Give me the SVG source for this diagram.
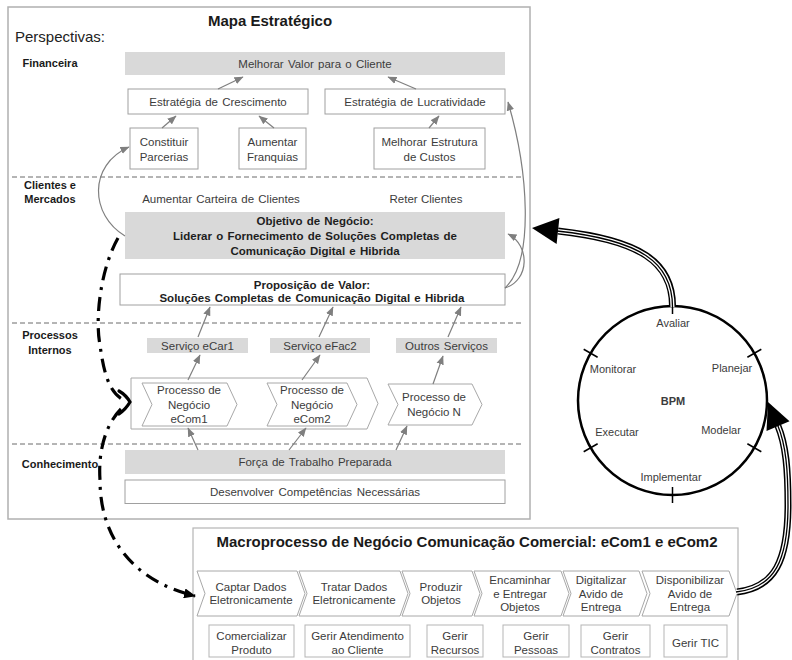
<svg xmlns="http://www.w3.org/2000/svg" width="792" height="660" viewBox="0 0 792 660">
<defs>
<marker id="ga" markerUnits="userSpaceOnUse" markerWidth="10" markerHeight="8" refX="8.5" refY="4" orient="auto"><path d="M0,0.3 L9,4 L0,7.7 z" fill="#7f7f7f"/></marker>
<marker id="fillv" markerUnits="userSpaceOnUse" markerWidth="12" markerHeight="10" refX="11" refY="5" orient="auto"><path d="M0,0 L12,5 L0,10 z" fill="#000"/></marker>
</defs>
<style>
.t{font-family:"Liberation Sans",Arial,sans-serif;font-size:11.5px;fill:#3c3c3c;text-anchor:middle}
.b{font-weight:bold;fill:#1e1e1e}
.lab{font-family:"Liberation Sans",Arial,sans-serif;font-size:11px;font-weight:bold;fill:#1a1a1a;text-anchor:middle}
.box{fill:#fff;stroke:#a0a0a0;stroke-width:1}
.mbox{fill:#fff;stroke:#b5b5b5;stroke-width:1}
.gbox{fill:#d9d9d9}
.dash{stroke:#6a6a6a;stroke-dasharray:5 3;stroke-width:1;fill:none}
.gc{fill:none;stroke:#7f7f7f;stroke-width:1.2;marker-end:url(#ga)}
.dd{fill:none;stroke:#000;stroke-width:3.2;stroke-dasharray:14 7 3 7}
.chev{fill:#fff;stroke:#a8a8a8;stroke-width:1}
.t1{fill:none;stroke:#000;stroke-width:7}
.t2{fill:none;stroke:#fff;stroke-width:4}
.t3{fill:none;stroke:#000;stroke-width:1.3}
.bpm{font-family:"Liberation Sans",Arial,sans-serif;font-size:11px;fill:#3c3c3c;text-anchor:middle}
</style>

<g id="mapa-frame">
<rect x="8" y="7" width="522" height="512" fill="#fff" stroke="#b0b0b0" stroke-width="1.5"/>
<text x="270" y="26" font-family="Liberation Sans, Arial, sans-serif" font-size="15" font-weight="bold" fill="#1a1a1a" text-anchor="middle">Mapa Estratégico</text>
<text x="15" y="42" font-family="Liberation Sans, Arial, sans-serif" font-size="15" fill="#222">Perspectivas:</text>
<line class="dash" x1="12" y1="177" x2="522" y2="177"/>
<line class="dash" x1="12" y1="323" x2="522" y2="323"/>
<line class="dash" x1="12" y1="444" x2="522" y2="444"/>
<text class="lab" x="50" y="67">Financeira</text>
<text class="lab" x="50" y="189">Clientes e</text>
<text class="lab" x="50" y="203">Mercados</text>
<text class="lab" x="50" y="339">Processos</text>
<text class="lab" x="50" y="354">Internos</text>
<text class="lab" x="60" y="468">Conhecimento</text>
</g>

<g id="melhorar-valor"><rect class="gbox" x="125" y="52" width="380" height="23"/><text class="t" x="315" y="67.5" word-spacing="1">Melhorar Valor para o Cliente</text></g>
<g id="estrategia-crescimento"><rect class="box" x="128" y="89" width="180" height="25"/><text class="t" x="218" y="105.5" word-spacing="1">Estratégia de Crescimento</text></g>
<g id="estrategia-lucratividade"><rect class="box" x="325" y="89" width="180" height="25"/><text class="t" x="415" y="105.5" word-spacing="1">Estratégia de Lucratividade</text></g>
<g id="constituir-parcerias"><rect class="box" x="130" y="128" width="68" height="41"/><text class="t" x="164" y="146">Constituir</text><text class="t" x="164" y="160.5">Parcerias</text></g>
<g id="aumentar-franquias"><rect class="box" x="239" y="128" width="67" height="41"/><text class="t" x="272.5" y="146">Aumentar</text><text class="t" x="272.5" y="160.5">Franquias</text></g>
<g id="melhorar-estrutura"><rect class="box" x="374" y="128" width="111" height="41"/><text class="t" x="429.5" y="146" word-spacing="1">Melhorar Estrutura</text><text class="t" x="429.5" y="160.5">de Custos</text></g>

<g id="aumentar-carteira"><text class="t" x="221" y="203" word-spacing="1">Aumentar Carteira de Clientes</text></g>
<g id="reter-clientes"><text class="t" x="426" y="203">Reter Clientes</text></g>
<g id="objetivo-negocio"><rect class="gbox" x="125" y="212" width="380" height="47"/>
<text class="t b" x="315" y="225" word-spacing="1">Objetivo de Negócio:</text>
<text class="t b" x="315" y="240" word-spacing="1">Liderar o Fornecimento de Soluções Completas de</text>
<text class="t b" x="315" y="254.5" word-spacing="1">Comunicação Digital e Hibrida</text></g>
<g id="proposicao-valor"><rect class="box" x="120" y="274" width="385" height="31"/>
<text class="t b" x="312" y="288.5" word-spacing="1">Proposição de Valor:</text>
<text class="t b" x="312" y="302" word-spacing="1">Soluções Completas de Comunicação Digital e Hibrida</text></g>

<g id="servico-ecar1"><rect class="gbox" x="147" y="338" width="101" height="15"/><text class="t" x="197.5" y="349.5">Serviço eCar1</text></g>
<g id="servico-efac2"><rect class="gbox" x="270" y="338" width="100" height="15"/><text class="t" x="320" y="349.5">Serviço eFac2</text></g>
<g id="outros-servicos"><rect class="gbox" x="396" y="338" width="101" height="15"/><text class="t" x="446.5" y="349.5" word-spacing="1">Outros Serviços</text></g>

<g id="grupo-ecom"><polygon class="chev" points="131,378 367,378 378,403.5 367,429 131,429"/></g>
<g id="processo-ecom1"><polygon class="chev" points="142,383 227,383 237,404.5 227,426 142,426 152,404.5"/>
<text class="t" x="189" y="394">Processo de</text><text class="t" x="189" y="408.5">Negócio</text><text class="t" x="189" y="423">eCom1</text></g>
<g id="processo-ecom2"><polygon class="chev" points="267,383 347,383 357,404.5 347,426 267,426 277,404.5"/>
<text class="t" x="312" y="394">Processo de</text><text class="t" x="312" y="408.5">Negócio</text><text class="t" x="312" y="423">eCom2</text></g>
<g id="processo-n"><polygon class="chev" points="388,384 472,384 482,404.5 472,425 388,425 398,404.5"/>
<text class="t" x="434" y="401">Processo de</text><text class="t" x="434" y="415.5">Negócio N</text></g>

<g id="forca-trabalho"><rect class="gbox" x="125" y="450" width="380" height="24"/><text class="t" x="315" y="466" word-spacing="1">Força de Trabalho Preparada</text></g>
<g id="desenvolver-competencias"><rect class="box" x="125" y="480" width="380" height="23.5"/><text class="t" x="315" y="495.5" word-spacing="1.5">Desenvolver Competências Necessárias</text></g>

<g id="bpm">
<circle cx="672.5" cy="400.5" r="94.5" fill="none" stroke="#000" stroke-width="2.5"/>
<g stroke="#000" stroke-width="1.5">
<line x1="747.4" y1="357.25" x2="761.3" y2="349.25"/>
<line x1="747.4" y1="443.75" x2="761.3" y2="451.75"/>
<line x1="597.6" y1="357.25" x2="583.7" y2="349.25"/>
<line x1="597.6" y1="443.75" x2="583.7" y2="451.75"/>
<line x1="672.5" y1="314" x2="672.5" y2="298"/>
<line x1="672.5" y1="487" x2="672.5" y2="503"/>
</g>
<text class="bpm" x="673" y="327">Avaliar</text>
<text class="bpm" x="613" y="373">Monitorar</text>
<text class="bpm" x="732" y="372">Planejar</text>
<text class="bpm" x="673" y="405" font-weight="bold" fill="#1a1a1a">BPM</text>
<text class="bpm" x="617" y="436">Executar</text>
<text class="bpm" x="721" y="434">Modelar</text>
<text class="bpm" x="671" y="481">Implementar</text>
</g>

<g id="macroprocesso">
<rect x="193" y="528" width="545" height="134" fill="#fff" stroke="#b5b5b5" stroke-width="1.2"/>
<text x="467" y="547" font-family="Liberation Sans, Arial, sans-serif" font-size="15" font-weight="bold" fill="#1a1a1a" text-anchor="middle">Macroprocesso de Negócio Comunicação Comercial: eCom1 e eCom2</text>
</g>
<g id="captar-dados"><polygon class="chev" points="197,571 297,571 305,593.5 297,616 197,616 205,593.5"/><text class="t" x="251" y="591">Captar Dados</text><text class="t" x="251" y="604">Eletronicamente</text></g>
<g id="tratar-dados"><polygon class="chev" points="299,571 400,571 408,593.5 400,616 299,616 307,593.5"/><text class="t" x="354" y="591">Tratar Dados</text><text class="t" x="354" y="604">Eletronicamente</text></g>
<g id="produzir-objetos"><polygon class="chev" points="402,571 472,571 480,593.5 472,616 402,616 410,593.5"/><text class="t" x="441" y="591">Produzir</text><text class="t" x="441" y="604">Objetos</text></g>
<g id="encaminhar-objetos"><polygon class="chev" points="474,571 561,571 569,593.5 561,616 474,616 482,593.5"/><text class="t" x="520" y="584">Encaminhar</text><text class="t" x="520" y="597.5">e Entregar</text><text class="t" x="520" y="611">Objetos</text></g>
<g id="digitalizar-aviso"><polygon class="chev" points="563,571 639,571 647,593.5 639,616 563,616 571,593.5"/><text class="t" x="601" y="584">Digitalizar</text><text class="t" x="601" y="597.5">Avido de</text><text class="t" x="601" y="611">Entrega</text></g>
<g id="disponibilizar-aviso"><polygon class="chev" points="642,571 729,571 737,593.5 729,616 642,616 650,593.5"/><text class="t" x="690" y="584">Disponibilizar</text><text class="t" x="690" y="597.5">Avido de</text><text class="t" x="690" y="611">Entrega</text></g>

<g id="comercializar-produto"><rect class="mbox" x="209" y="625" width="85" height="32"/><text class="t" x="251.5" y="640">Comercializar</text><text class="t" x="251.5" y="654">Produto</text></g>
<g id="gerir-atendimento"><rect class="mbox" x="305" y="625" width="105" height="32"/><text class="t" x="357.5" y="640">Gerir Atendimento</text><text class="t" x="357.5" y="654">ao Cliente</text></g>
<g id="gerir-recursos"><rect class="mbox" x="427" y="625" width="56" height="32"/><text class="t" x="455" y="640">Gerir</text><text class="t" x="455" y="654">Recursos</text></g>
<g id="gerir-pessoas"><rect class="mbox" x="503" y="625" width="66" height="32"/><text class="t" x="536" y="640">Gerir</text><text class="t" x="536" y="654">Pessoas</text></g>
<g id="gerir-contratos"><rect class="mbox" x="581" y="625" width="69" height="32"/><text class="t" x="615.5" y="640">Gerir</text><text class="t" x="615.5" y="654">Contratos</text></g>
<g id="gerir-tic"><rect class="mbox" x="664" y="625" width="63" height="32"/><text class="t" x="695.5" y="647">Gerir TIC</text></g>

<g id="connectors">
<line class="gc" x1="218" y1="89" x2="243" y2="77"/>
<line class="gc" x1="416" y1="89" x2="388" y2="77"/>
<line class="gc" x1="162" y1="128" x2="176" y2="116"/>
<line class="gc" x1="274" y1="128" x2="259" y2="116"/>
<line class="gc" x1="429" y1="128" x2="439" y2="116"/>
<line class="gc" x1="198" y1="337" x2="210" y2="307"/>
<line class="gc" x1="319" y1="337" x2="333" y2="307"/>
<line class="gc" x1="448" y1="337" x2="461" y2="307"/>
<line class="gc" x1="188" y1="380" x2="200" y2="355"/>
<line class="gc" x1="302" y1="380" x2="320" y2="355"/>
<line class="gc" x1="433" y1="384" x2="443" y2="356"/>
<line class="gc" x1="198" y1="450" x2="188" y2="428"/>
<line class="gc" x1="289" y1="450" x2="306" y2="428"/>
<line class="gc" x1="396" y1="450" x2="407" y2="426"/>
<path class="gc" d="M 125 236 C 90 215, 88 165, 129 147"/>
<path class="gc" d="M 505 288 C 535 260, 528 170, 508 102"/>
<path class="gc" d="M 505 288 C 530 280, 530 245, 508 234"/>
<path class="dd" d="M 118 238 C 100 270, 95 320, 100 345 C 104 375, 110 395, 126 401"/>
<path d="M 119 391 Q 126 395 130 402 Q 126 409 119 414" fill="none" stroke="#000" stroke-width="3.2" stroke-linecap="round"/>
<path class="dd" d="M 121 409 C 106 424, 98 450, 100 480 C 100 535, 130 580, 195 596" marker-end="url(#fillv)"/>
<path class="t1" d="M 672.5 306 C 672.5 262, 640 240, 558 231"/>
<path class="t2" d="M 672.5 307 C 672.5 262, 640 240, 557 231"/>
<path class="t3" d="M 672.5 307 C 672.5 262, 640 240, 557 231"/>
<polygon points="532,228 559.4,218.1 556.6,243.9" fill="#000"/>
<path class="t1" d="M 737 592 C 775 588, 788 560, 788 505 C 788 470, 786 445, 778 426"/>
<path class="t2" d="M 736 592 C 775 588, 788 560, 788 505 C 788 470, 786 445, 777.6 425"/>
<path class="t3" d="M 736 592 C 775 588, 788 560, 788 505 C 788 470, 786 445, 777.6 425"/>
<polygon points="768,402 789.5,421.2 766.5,430.9" fill="#000"/>
</g>
</svg>
